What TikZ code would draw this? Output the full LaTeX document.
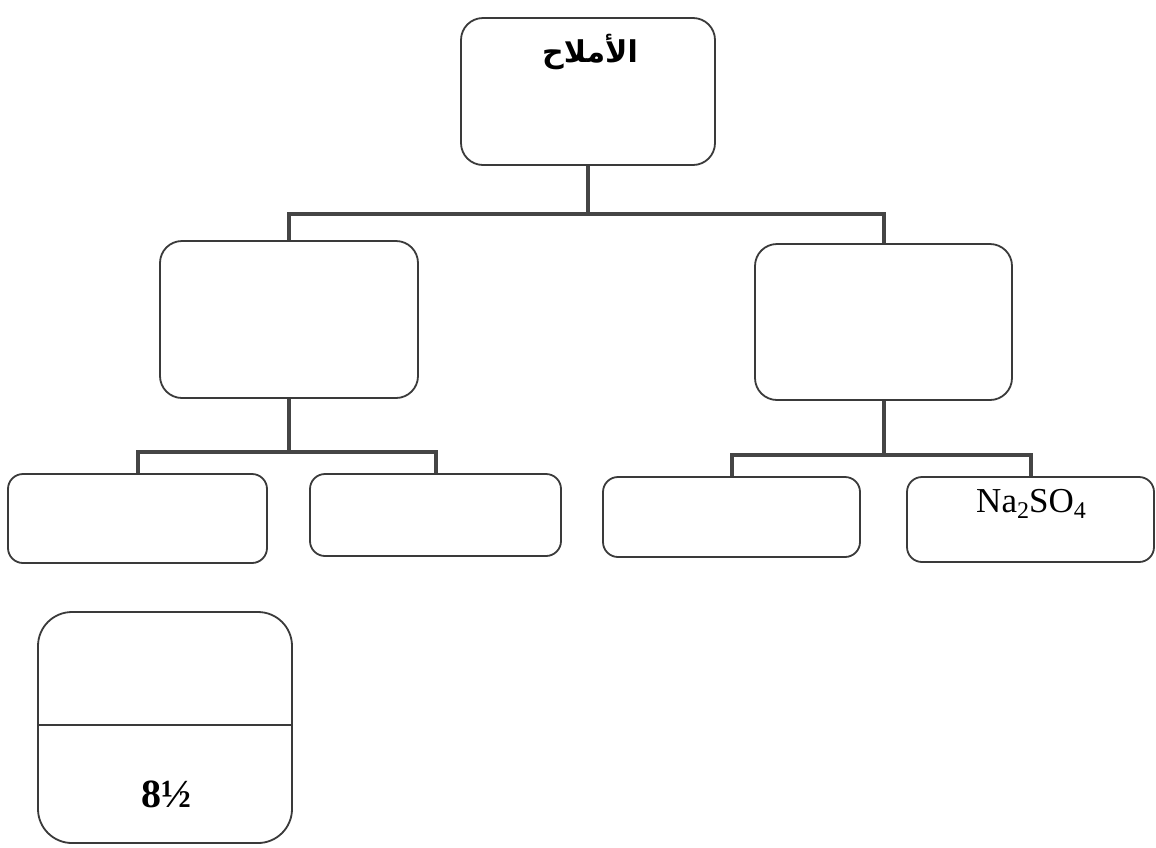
\documentclass[tikz,border=0pt]{standalone}
\usepackage{fontspec}
\setmainfont{Liberation Serif}
\newfontfamily\arabicfont[Script=Arabic]{DejaVu Sans}
\TeXXeTstate=1
\definecolor{boxgray}{HTML}{3A3A3A}
\definecolor{conngray}{HTML}{454545}
\begin{document}
\begin{tikzpicture}[x=1pt,y=-1pt,
  box/.style={draw=boxgray, line width=1.8pt, rounded corners=22pt, inner sep=0pt, fill=white},
  smallbox/.style={box, rounded corners=15pt},
  conn/.style={draw=conngray, line width=4pt},
  lbl/.style={inner sep=0pt, text=black}]
\useasboundingbox[fill=white] (0,0) rectangle (1156,847);

% top level
\node[box, minimum width=254pt, minimum height=147pt] (top) at (588,91.5) {};
\node[lbl] (toptext) at (590,52) {\arabicfont\bfseries\fontsize{30}{34}\selectfont\beginR الأملاح\endR};

% middle level
\node[box, minimum width=258pt, minimum height=157pt] (ml) at (289,319.5) {};
\node[box, minimum width=257pt, minimum height=156pt] (mr) at (883.5,322) {};

% bottom level
\node[smallbox, minimum width=259pt, minimum height=89pt] (b1) at (137.5,518.5) {};
\node[smallbox, minimum width=251pt, minimum height=82pt] (b2) at (435.5,515) {};
\node[smallbox, minimum width=257pt, minimum height=80pt] (b3) at (731.5,517) {};
\node[smallbox, minimum width=247pt, minimum height=85pt] (b4) at (1030.5,519.5) {};
\node[lbl] (b4text) at (1031,504) {\fontsize{35}{38}\selectfont Na\raisebox{-0.18em}{\fontsize{24}{26}\selectfont 2}SO\raisebox{-0.18em}{\fontsize{24}{26}\selectfont 4}};

% separate box
\node[box, rounded corners=34pt, minimum width=254pt, minimum height=231pt] (last) at (165,727.5) {};
\draw[boxgray, line width=1.8pt] (last.west |- 0,725) -- (last.east |- 0,725);
\node[lbl] (lasttext) at (166,794) {\fontsize{40}{44}\selectfont\bfseries 8½};

% connectors
\coordinate (j1) at (588,214);
\draw[conn] (top.south) -- (j1);
\draw[conn] (ml.north) |- (j1) -| (mr.north);

\coordinate (j2) at (289,452);
\draw[conn] (ml.south) -- (j2);
\draw[conn] (b1.north) |- (j2) -| (b2.north);

\coordinate (j3) at (883.5,455);
\draw[conn] (mr.south) -- (j3);
\draw[conn] (b3.north) |- (j3) -| (b4.north);
\end{tikzpicture}
\end{document}
